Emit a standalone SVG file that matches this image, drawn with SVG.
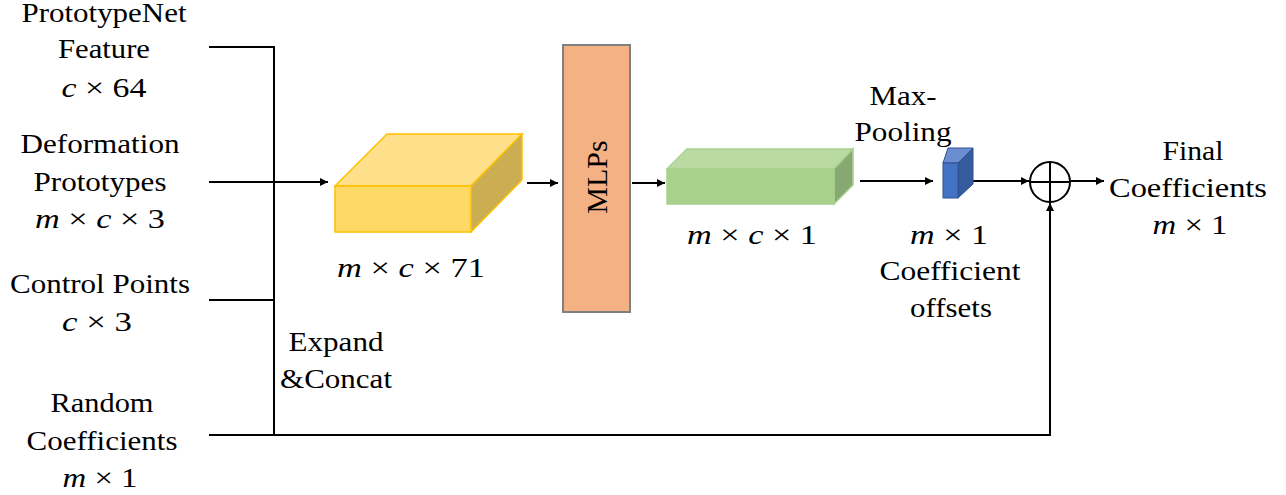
<svg xmlns="http://www.w3.org/2000/svg" width="1286" height="495" viewBox="0 0 1286 495">
<style>
.t{font-family:"Liberation Serif","Times New Roman",serif;font-size:28px;fill:#000;text-anchor:middle}
.m{font-size:28px}
.i{font-style:italic}
.ln{stroke:#000;stroke-width:2;fill:none}
</style>
<defs>
<marker id="ah" viewBox="0 0 10 10" refX="10" refY="5" markerWidth="10" markerHeight="8" markerUnits="userSpaceOnUse" orient="auto">
<path d="M0,0 L10,5 L0,10 z" fill="#000"/>
</marker>
</defs>
<rect width="1286" height="495" fill="#fff"/>
<g id="connectors">
<polyline class="ln" points="209,47 274,47 274,435"/>
<line class="ln" x1="209" y1="300" x2="274" y2="300"/>
<line class="ln" x1="209" y1="182" x2="328" y2="182" marker-end="url(#ah)"/>
<line class="ln" x1="527" y1="183" x2="558" y2="183" marker-end="url(#ah)"/>
<line class="ln" x1="632" y1="183" x2="665" y2="183" marker-end="url(#ah)"/>
<line class="ln" x1="860" y1="181" x2="933" y2="181" marker-end="url(#ah)"/>
<line class="ln" x1="973" y1="181" x2="1029" y2="181" marker-end="url(#ah)"/>
<line class="ln" x1="1071" y1="181" x2="1104" y2="181" marker-end="url(#ah)"/>
<polyline class="ln" points="209,435 1050,435 1050,203" marker-end="url(#ah)"/>
</g>
<g id="concat-block">
<polygon points="335,186 387,134 522,134 471,186" fill="#FFE08A" stroke="#FFC000" stroke-width="1.5"/>
<polygon points="471,186 522,134 522,180 471,232" fill="#CCAE52" stroke="#FFC000" stroke-width="1.5"/>
<rect x="335" y="186" width="136" height="46" fill="#FFD966" stroke="#FFC000" stroke-width="1.5"/>
</g>
<g id="mlps">
<rect x="563" y="45" width="67" height="267" fill="#F4B183" stroke="#808080" stroke-width="2"/>
<text class="t" transform="translate(607,177) rotate(-90)" style="font-size:30px" x="0" y="0">MLPs</text>
</g>
<g id="feature-block">
<polygon points="667,169 687,149 853,149 834,169" fill="#B9DAA3" stroke="#A9D18E" stroke-width="1.5"/>
<polygon points="834,169 853,149 853,185 834,204" fill="#87A872" stroke="#A9D18E" stroke-width="1.5"/>
<rect x="667" y="169" width="167" height="35" fill="#A9D18E" stroke="#A9D18E" stroke-width="1.5"/>
</g>
<g id="pooled-block">
<polygon points="943,163 948,148 973,148 958,163" fill="#6A8ED0" stroke="#2F528F" stroke-width="1"/>
<polygon points="958,163 973,148 973,184 958,198" fill="#365B9D" stroke="#2F528F" stroke-width="1"/>
<rect x="943" y="163" width="15" height="35" fill="#4472C4" stroke="#2F528F" stroke-width="1"/>
</g>
<g id="sum">
<circle cx="1050" cy="182" r="20" fill="#fff" stroke="#000" stroke-width="2"/>
<line class="ln" x1="1030" y1="182" x2="1070" y2="182"/>
<line class="ln" x1="1050" y1="162" x2="1050" y2="202"/>
</g>
<g id="in-feature">
<text class="t" x="104" y="22" textLength="165" lengthAdjust="spacingAndGlyphs">PrototypeNet</text>
<text class="t" x="104" y="58" textLength="92" lengthAdjust="spacingAndGlyphs">Feature</text>
<text class="t m" x="104" y="97" textLength="85" lengthAdjust="spacingAndGlyphs"><tspan class="i">c</tspan> × 64</text>
</g>
<g id="in-prototypes">
<text class="t" x="100" y="153" textLength="159" lengthAdjust="spacingAndGlyphs">Deformation</text>
<text class="t" x="100" y="191" textLength="133" lengthAdjust="spacingAndGlyphs">Prototypes</text>
<text class="t m" x="100" y="228" textLength="130" lengthAdjust="spacingAndGlyphs"><tspan class="i">m</tspan> × <tspan class="i">c</tspan> × 3</text>
</g>
<g id="in-control">
<text class="t" x="100" y="293" textLength="180" lengthAdjust="spacingAndGlyphs">Control Points</text>
<text class="t m" x="97" y="331" textLength="70" lengthAdjust="spacingAndGlyphs"><tspan class="i">c</tspan> × 3</text>
</g>
<g id="in-random">
<text class="t" x="102" y="412" textLength="103" lengthAdjust="spacingAndGlyphs">Random</text>
<text class="t" x="102" y="450" textLength="151" lengthAdjust="spacingAndGlyphs">Coefficients</text>
<text class="t m" x="100" y="487" textLength="75" lengthAdjust="spacingAndGlyphs"><tspan class="i">m</tspan> × 1</text>
</g>
<g id="lbl-concat">
<text class="t" x="336" y="351" textLength="95" lengthAdjust="spacingAndGlyphs">Expand</text>
<text class="t" x="336" y="388" textLength="112" lengthAdjust="spacingAndGlyphs">&amp;Concat</text>
</g>
<text class="t m" x="411" y="277" textLength="148" lengthAdjust="spacingAndGlyphs"><tspan class="i">m</tspan> × <tspan class="i">c</tspan> × 71</text>
<text class="t m" x="752" y="244" textLength="130" lengthAdjust="spacingAndGlyphs"><tspan class="i">m</tspan> × <tspan class="i">c</tspan> × 1</text>
<g id="lbl-pool">
<text class="t" x="903" y="105" textLength="67" lengthAdjust="spacingAndGlyphs">Max-</text>
<text class="t" x="903" y="141" textLength="97" lengthAdjust="spacingAndGlyphs">Pooling</text>
</g>
<g id="lbl-offsets">
<text class="t m" x="949" y="244" textLength="78" lengthAdjust="spacingAndGlyphs"><tspan class="i">m</tspan> × 1</text>
<text class="t" x="950" y="280" textLength="141" lengthAdjust="spacingAndGlyphs">Coefficient</text>
<text class="t" x="951" y="317" textLength="82" lengthAdjust="spacingAndGlyphs">offsets</text>
</g>
<g id="out-final">
<text class="t" x="1193" y="160" textLength="61" lengthAdjust="spacingAndGlyphs">Final</text>
<text class="t" x="1188" y="197" textLength="158" lengthAdjust="spacingAndGlyphs">Coefficients</text>
<text class="t m" x="1190" y="234" textLength="75" lengthAdjust="spacingAndGlyphs"><tspan class="i">m</tspan> × 1</text>
</g>
</svg>
